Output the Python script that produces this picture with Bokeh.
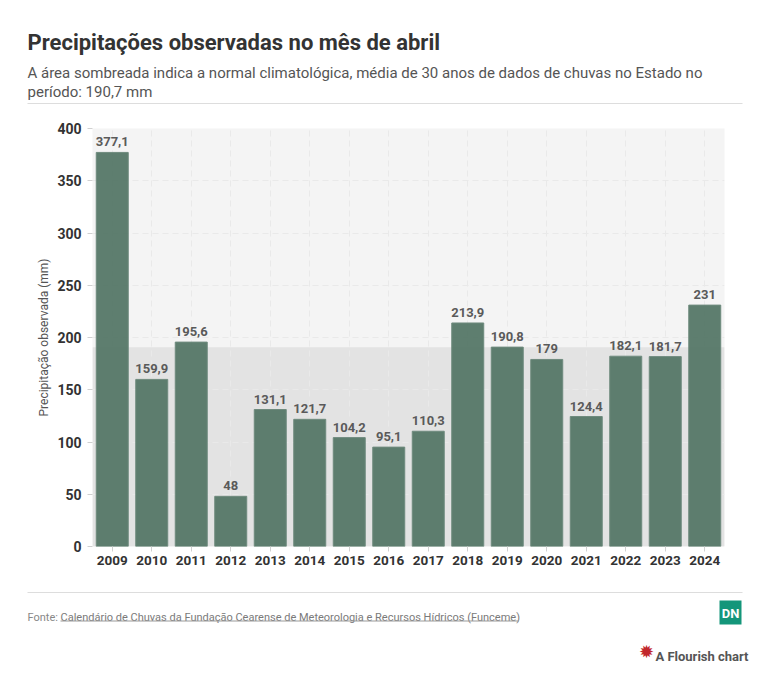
from bokeh.plotting import figure
from bokeh.models import ColumnDataSource, FactorRange, Range1d, LabelSet, BoxAnnotation
from bokeh.core.properties import value
from bokeh.embed import file_html
from bokeh.resources import INLINE

# dados (mm) - abril
years = ["2009", "2010", "2011", "2012", "2013", "2014", "2015", "2016",
         "2017", "2018", "2019", "2020", "2021", "2022", "2023", "2024"]
rain = [377.1, 159.9, 195.6, 48, 131.1, 121.7, 104.2, 95.1,
        110.3, 213.9, 190.8, 179, 124.4, 182.1, 181.7, 231]
normal = 190.7
y_ticks = [0, 50, 100, 150, 200, 250, 300, 350, 400]

title = "Precipitações observadas no mês de abril"
subtitle1 = "A área sombreada indica a normal climatológica, média de 30 anos de dados de chuvas no Estado no"
subtitle2 = "período: 190,7 mm"
y_label = "Precipitação observada (mm)"
source_prefix = "Fonte:"
source_text = "Calendário de Chuvas da Fundação Cearense de Meteorologia e Recursos Hídricos (Funceme)"

FONT = "Roboto"
W = 769
HEAD_H, CHART_H, FOOT_H = 110, 475, 96


def blank(top, height):
    # figura sem eixos, coordenadas = pixels da pagina
    f = figure(width=W, height=height, x_range=Range1d(0, W), y_range=Range1d(top + height, top),
               output_backend="svg", toolbar_location=None,
               x_axis_location=None, y_axis_location=None, min_border=0)
    f.grid.visible = False
    f.outline_line_color = None
    f.background_fill_color = "white"
    return f


def txt(f, x, y, s, size, color, style="normal", align="left", baseline="alphabetic", font=FONT):
    f.text(x=[x], y=[y], text=[s], text_font=value(font), text_font_size=size,
           text_font_style=style, text_color=color, text_align=align, text_baseline=baseline)


# --- cabecalho
head = blank(0, HEAD_H)
txt(head, 27, 42, title, "22px", "#333333", style="bold")
txt(head, 27, 72.5, subtitle1, "15px", "#555555")
txt(head, 27, 91.5, subtitle2, "15px", "#555555")
head.segment(x0=[27], y0=[103], x1=[742], y1=[103], line_color="#dddddd", line_width=1)

# --- grafico
source = ColumnDataSource(data=dict(
    year=years,
    rain=rain,
    label=[f"{v:g}".replace(".", ",") for v in rain],
))

p = figure(
    x_range=FactorRange(*years, range_padding=0),
    y_range=Range1d(0, 400),
    width=W, height=CHART_H,
    output_backend="svg",
    toolbar_location=None,
    min_border_left=92, min_border_right=45,
    min_border_top=18, min_border_bottom=39,
)
p.outline_line_color = None
p.background_fill_color = "#f4f4f4"
p.border_fill_color = "white"

# faixa da normal climatologica (abaixo da grade)
p.add_layout(BoxAnnotation(bottom=0, top=normal, fill_color="#e3e3e3", fill_alpha=1,
                           line_color=None, level="image"))

p.vbar(x="year", top="rain", width=0.81, source=source,
       fill_color="#557767", fill_alpha=0.95, line_color="#6f8b7e", line_width=1)

p.add_layout(LabelSet(x="year", y="rain", text="label", source=source,
                      text_align="center", text_baseline="alphabetic", y_offset=6,
                      text_font=value(FONT), text_font_style="bold", text_font_size="13px",
                      text_color="#5a5a5a"))

for g in (p.xgrid, p.ygrid):
    g.grid_line_color = "#e9e9e9"
    g.grid_line_dash = "6 4"
    g.grid_line_width = 1

p.yaxis.ticker = y_ticks
p.yaxis.axis_label = y_label
p.yaxis.axis_label_text_font = FONT
p.yaxis.axis_label_text_font_style = "normal"
p.yaxis.axis_label_text_font_size = "12px"
p.yaxis.axis_label_text_color = "#555555"
p.yaxis.axis_label_standoff = 3
p.yaxis.minor_tick_line_color = None

for ax in (p.xaxis, p.yaxis):
    ax.axis_line_color = None
    ax.major_tick_line_color = "#d0d0d0"
    ax.major_tick_in = 0
    ax.major_tick_out = 5
    ax.major_label_text_font = FONT
    ax.major_label_text_font_style = "bold"
    ax.major_label_text_color = "#333333"
p.yaxis.major_label_text_font_size = "14px"
p.yaxis.major_label_standoff = 6
p.xaxis.major_label_text_font_size = "13.5px"
p.xaxis.major_label_standoff = 4

# --- rodape
foot = blank(HEAD_H + CHART_H, FOOT_H)
foot.segment(x0=[27], y0=[592], x1=[742], y1=[592], line_color="#dddddd", line_width=1)
txt(foot, 27, 617, source_prefix, "11px", "#888888")
txt(foot, 60, 617, source_text, "11px", "#7a7a7a")
foot.segment(x0=[60], y0=[620.5], x1=[518], y1=[620.5], line_color="#999999", line_width=1)
foot.quad(left=[719], right=[741], top=[600], bottom=[624], fill_color="#14967a", line_color=None)
txt(foot, 730, 612.5, "DN", "13px", "white", style="bold", align="center", baseline="middle")
txt(foot, 748, 656, "A Flourish chart", "13px", "#555555", style="bold", align="right")
txt(foot, 646, 651, "✹", "18px", "#c2272d", align="center", baseline="middle", font="DejaVu Sans")

# cada parte como raiz separada, para nao alinhar os quadros
open("out.html", "w").write(file_html([head, p, foot], INLINE))
